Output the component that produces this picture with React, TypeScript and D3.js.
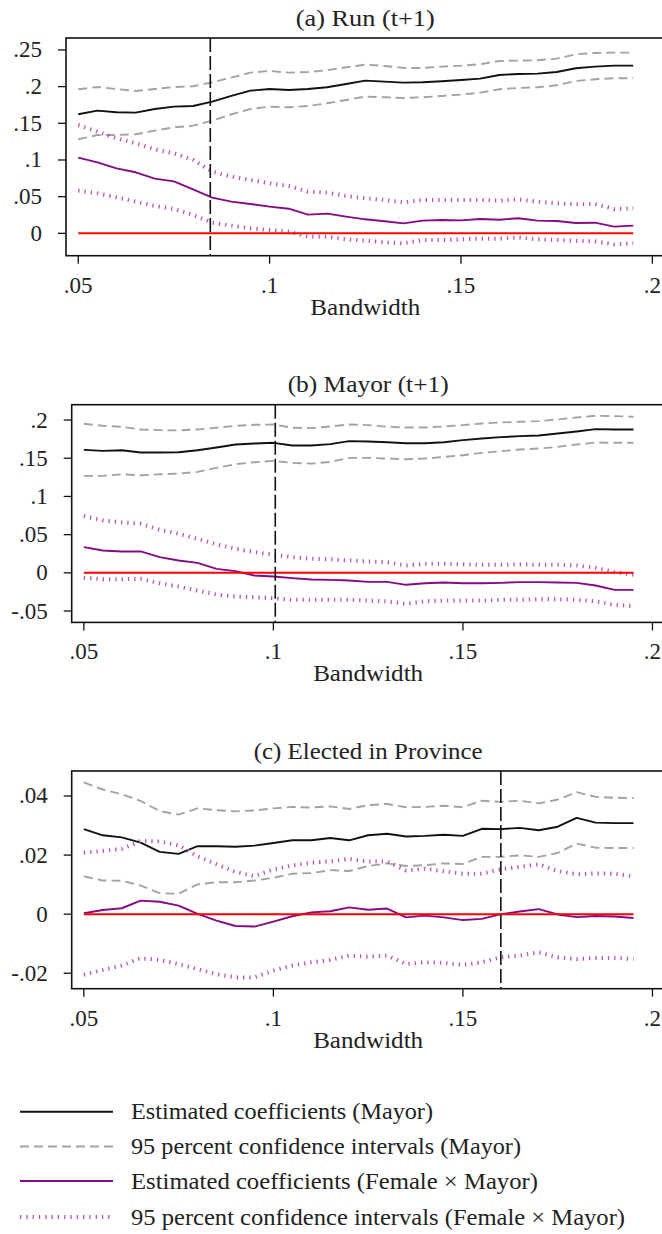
import React from "react";
import * as d3 from "d3";

const bandwidths = [0.05, 0.055, 0.06, 0.065, 0.07, 0.075, 0.08, 0.085, 0.09, 0.095, 0.1, 0.105, 0.11, 0.115, 0.12, 0.125, 0.13, 0.135, 0.14, 0.145, 0.15, 0.155, 0.16, 0.165, 0.17, 0.175, 0.18, 0.185, 0.19, 0.195];

// Panel (a) Run (t+1)
const aCoef = [0.1623,0.1673,0.165,0.1645,0.1695,0.1727,0.1736,0.1795,0.1873,0.1945,0.1968,0.1955,0.1968,0.1991,0.2036,0.2082,0.2068,0.2055,0.2059,0.2073,0.2091,0.2109,0.2159,0.2173,0.2177,0.22,0.225,0.2273,0.2286,0.2286];
const aHi = [0.1964,0.1995,0.1968,0.1941,0.1968,0.1995,0.2005,0.2059,0.2123,0.2191,0.2214,0.2191,0.22,0.2223,0.2264,0.23,0.2282,0.2255,0.2255,0.2273,0.2286,0.2305,0.235,0.2355,0.2359,0.2382,0.2441,0.2459,0.2464,0.2464];
const aLo = [0.1282,0.1341,0.1341,0.135,0.14,0.1445,0.1468,0.1536,0.1623,0.1695,0.1727,0.1718,0.1736,0.1773,0.1818,0.1864,0.1855,0.1845,0.1855,0.1873,0.1891,0.1918,0.1964,0.1982,0.1991,0.2018,0.2077,0.21,0.2114,0.2114];
const aFCoef = [0.1032,0.0968,0.0886,0.0832,0.0745,0.0709,0.06,0.0486,0.0432,0.04,0.0364,0.0336,0.0255,0.0268,0.0227,0.0191,0.0164,0.0136,0.0173,0.0182,0.0177,0.0195,0.0186,0.0205,0.0173,0.0168,0.0141,0.0145,0.0091,0.0105];
const aFHi = [0.1477,0.1386,0.1295,0.1227,0.1145,0.1091,0.1,0.0841,0.0773,0.0727,0.0682,0.0645,0.0568,0.0555,0.0509,0.0477,0.0455,0.0423,0.0455,0.0455,0.0455,0.0455,0.0445,0.0464,0.0432,0.0409,0.0395,0.04,0.0332,0.0341];
const aFLo = [0.0582,0.0545,0.0491,0.0432,0.0373,0.0332,0.025,0.0145,0.0105,0.0068,0.0045,0.0023,-0.0045,-0.0045,-0.0082,-0.01,-0.0123,-0.0136,-0.0091,-0.0091,-0.0082,-0.0073,-0.0073,-0.0055,-0.0082,-0.0091,-0.01,-0.0109,-0.015,-0.0136];

// Panel (b) Mayor (t+1)
const bCoef = [0.161,0.1597,0.1605,0.1575,0.1575,0.1579,0.1605,0.164,0.168,0.1693,0.1702,0.1667,0.1667,0.1685,0.1724,0.1719,0.171,0.1697,0.1697,0.171,0.1737,0.1759,0.1776,0.1789,0.1798,0.1824,0.185,0.1881,0.1877,0.1877];
const bHi = [0.1951,0.1925,0.1912,0.1877,0.1868,0.1864,0.1877,0.1899,0.1925,0.1938,0.1942,0.1899,0.1894,0.1916,0.1942,0.1934,0.1912,0.1903,0.1903,0.1916,0.1934,0.1955,0.1969,0.1977,0.1986,0.2008,0.2034,0.2056,0.2052,0.2043];
const bLo = [0.1269,0.1269,0.129,0.1277,0.129,0.1299,0.1321,0.1374,0.1422,0.1448,0.1465,0.1439,0.143,0.1452,0.1505,0.1505,0.1496,0.1487,0.1496,0.1518,0.154,0.157,0.1592,0.1614,0.1627,0.1649,0.168,0.1706,0.1702,0.1702];
const bFCoef = [0.0337,0.0293,0.028,0.028,0.0206,0.0162,0.0131,0.0052,0.0022,-0.0035,-0.0048,-0.007,-0.0087,-0.0092,-0.0101,-0.0118,-0.0118,-0.0157,-0.0136,-0.0127,-0.0136,-0.0136,-0.0131,-0.0122,-0.0122,-0.0127,-0.0131,-0.0166,-0.0223,-0.0223];
const bFHi = [0.0744,0.0687,0.0661,0.0643,0.0564,0.0512,0.0446,0.0372,0.0315,0.0271,0.0236,0.0206,0.0184,0.0175,0.0162,0.0149,0.014,0.0096,0.0118,0.0118,0.0109,0.0105,0.0105,0.0109,0.0105,0.0105,0.0096,0.0066,0.0009,-0.0026];
const bFLo = [-0.0066,-0.0083,-0.0083,-0.0079,-0.0136,-0.0179,-0.0232,-0.0284,-0.0311,-0.0319,-0.0332,-0.0354,-0.0354,-0.0354,-0.0354,-0.0363,-0.0372,-0.0407,-0.0372,-0.0363,-0.0363,-0.0363,-0.0354,-0.0354,-0.0346,-0.0346,-0.0354,-0.0372,-0.042,-0.0433];

// Panel (c) Elected in Province
const cCoef = [0.0288,0.0267,0.026,0.0242,0.0211,0.0204,0.023,0.023,0.0228,0.0232,0.0241,0.025,0.025,0.0258,0.025,0.0267,0.0272,0.0263,0.0265,0.0269,0.0265,0.0289,0.0288,0.0292,0.0284,0.0296,0.0326,0.031,0.0308,0.0308];
const cHi = [0.0446,0.0422,0.0406,0.0383,0.0349,0.0337,0.0358,0.0352,0.0348,0.0351,0.0358,0.0363,0.0361,0.0365,0.0356,0.0369,0.0373,0.0362,0.0363,0.0367,0.0362,0.0384,0.038,0.0384,0.0375,0.0388,0.0413,0.0397,0.0394,0.0393];
const cLo = [0.0128,0.0114,0.0113,0.0097,0.0071,0.0069,0.0101,0.0108,0.0108,0.0114,0.0123,0.0137,0.0139,0.0149,0.0146,0.0163,0.0172,0.0163,0.0166,0.0172,0.017,0.0194,0.0194,0.0199,0.0194,0.0207,0.0239,0.0225,0.0224,0.0224];
const cFCoef = [0.0003,0.0014,0.002,0.0046,0.0042,0.0029,0.0001,-0.0022,-0.004,-0.0042,-0.0025,-0.0007,0.0006,0.001,0.0023,0.0015,0.0019,-0.0011,-0.0005,-0.0011,-0.002,-0.0016,0,0.0009,0.0017,-0.0001,-0.001,-0.0006,-0.0008,-0.0013];
const cFHi = [0.0208,0.0214,0.0221,0.0248,0.0246,0.0233,0.0196,0.0169,0.0143,0.0129,0.0151,0.0165,0.0174,0.0179,0.0187,0.0178,0.0178,0.0148,0.0154,0.0145,0.0137,0.0137,0.0152,0.016,0.0169,0.0146,0.0135,0.0138,0.0137,0.0128];
const cFLo = [-0.0205,-0.0189,-0.0174,-0.0149,-0.0155,-0.0169,-0.0186,-0.0203,-0.0214,-0.0214,-0.0191,-0.0174,-0.0163,-0.0155,-0.014,-0.0144,-0.014,-0.0169,-0.0163,-0.0165,-0.0172,-0.0163,-0.0146,-0.014,-0.0129,-0.0146,-0.0152,-0.0148,-0.0148,-0.0152];

const optimalBandwidths = [0.0845, 0.1005, 0.16];
const panelTitles = ["(a) Run (t+1)", "(b) Mayor (t+1)", "(c) Elected in Province"];
const titleWidths = [139, 161, 229];

const xTicks = [0.05, 0.1, 0.15, 0.2];
const xTickLabels = [".05", ".1", ".15", ".2"];
const aYTicks = [0, 0.05, 0.1, 0.15, 0.2, 0.25];
const aYTickLabels = ["0", ".05", ".1", ".15", ".2", ".25"];
const bYTicks = [-0.05, 0, 0.05, 0.1, 0.15, 0.2];
const bYTickLabels = ["-.05", "0", ".05", ".1", ".15", ".2"];
const cYTicks = [-0.02, 0, 0.02, 0.04];
const cYTickLabels = ["-.02", "0", ".02", ".04"];

const legendLabels = [
  "Estimated coefficients (Mayor)",
  "95 percent confidence intervals (Mayor)",
  "Estimated coefficients (Female \u00d7 Mayor)",
  "95 percent confidence intervals (Female \u00d7 Mayor)",
];
const legendWidths = [302, 390, 407, 494];

const FONT = "'Liberation Serif', 'Times New Roman', serif";
const BLACK = "#111";
const GRAY = "#a3a3a3";
const PURPLE = "#850a85";
const LPURPLE = "#b356b3";

const styles = [
  { stroke: BLACK, width: 1.9, dash: undefined as string | undefined },
  { stroke: GRAY, width: 1.9, dash: "9 5" },
  { stroke: PURPLE, width: 1.9, dash: undefined as string | undefined },
  { stroke: LPURPLE, width: 4, dash: "1.3 5" },
];

const panels = [
  { top: 38, left: 66, yDomain: [-0.0305, 0.2663], yTicks: aYTicks, yLabels: aYTickLabels,
    series: [aCoef, aHi, aLo, aFCoef, aFHi, aFLo] },
  { top: 404.7, left: 71.7, yDomain: [-0.0649, 0.2201], yTicks: bYTicks, yLabels: bYTickLabels,
    series: [bCoef, bHi, bLo, bFCoef, bFHi, bFLo] },
  { top: 771, left: 71.7, yDomain: [-0.02523, 0.04846], yTicks: cYTicks, yLabels: cYTickLabels,
    series: [cCoef, cHi, cLo, cFCoef, cFHi, cFLo] },
];
const seriesStyle = [0, 1, 1, 2, 3, 3];

const PANEL_H = 217.7;
const RIGHT = 664.6;

function Panel({ idx }: { idx: number }) {
  const p = panels[idx];
  const bottom = p.top + PANEL_H;
  const x = d3.scaleLinear().domain([0.0468, 0.2032]).range([p.left, RIGHT]);
  const y = d3.scaleLinear().domain(p.yDomain).range([bottom, p.top]);
  const line = (vals: number[]) =>
    d3.line<number>().x((_, i) => x(bandwidths[i])).y((v) => y(v))(vals) || "";
  const cx = (p.left + RIGHT) / 2;
  const vx = x(optimalBandwidths[idx]);
  return (
    <g>
      <text x={cx} y={p.top - 12.5} textAnchor="middle" fontFamily={FONT} fontSize={23}
        textLength={titleWidths[idx]} lengthAdjust="spacingAndGlyphs" fill="#222">
        {panelTitles[idx]}
      </text>
      {p.series.map((vals, i) => {
        const s = styles[seriesStyle[i]];
        return (
          <path key={i} d={line(vals)} fill="none" stroke={s.stroke} strokeWidth={s.width}
            strokeDasharray={s.dash} strokeLinejoin="round" />
        );
      })}
      <line x1={x(bandwidths[0])} x2={x(bandwidths[bandwidths.length - 1])} y1={y(0)} y2={y(0)}
        stroke="#ff0000" strokeWidth={2} />
      <line x1={vx} x2={vx} y1={p.top} y2={bottom} stroke="#111" strokeWidth={1.6} strokeDasharray="14 4" />
      <rect x={p.left} y={p.top} width={RIGHT - p.left} height={PANEL_H} fill="none" stroke="#111" strokeWidth={1.6} />
      {p.yTicks.map((t, i) => (
        <g key={"y" + i}>
          <line x1={p.left - 8} x2={p.left} y1={y(t)} y2={y(t)} stroke="#111" strokeWidth={1.3} />
          <text x={p.left - 24} y={y(t) + 7.5} textAnchor="end" fontFamily={FONT} fontSize={23} fill="#222">
            {p.yLabels[i]}
          </text>
        </g>
      ))}
      {xTicks.map((t, i) => (
        <g key={"x" + i}>
          <line x1={x(t)} x2={x(t)} y1={bottom} y2={bottom + 8} stroke="#111" strokeWidth={1.3} />
          <text x={x(t)} y={bottom + 37} textAnchor="middle" fontFamily={FONT} fontSize={23} fill="#222">
            {xTickLabels[i]}
          </text>
        </g>
      ))}
      <text x={cx} y={bottom + 59} textAnchor="middle" fontFamily={FONT} fontSize={23}
        textLength={110} lengthAdjust="spacingAndGlyphs" fill="#222">
        Bandwidth
      </text>
    </g>
  );
}

export default function App() {
  const legendY = [1111.7, 1146.5, 1181, 1217];
  return (
    <svg width={662} height={1234} style={{ position: "absolute", left: 0, top: 0, background: "#fff" }}>
      <rect x={0} y={0} width={662} height={1234} fill="#fff" />
      {panels.map((_, i) => (
        <Panel key={i} idx={i} />
      ))}
      {legendLabels.map((lab, i) => {
        const s = styles[i];
        return (
          <g key={"l" + i}>
            <line x1={20} x2={113} y1={legendY[i]} y2={legendY[i]} stroke={s.stroke} strokeWidth={s.width}
              strokeDasharray={s.dash} />
            <text x={131} y={legendY[i] + 7.5} fontFamily={FONT} fontSize={23} fill="#222"
              textLength={legendWidths[i]} lengthAdjust="spacingAndGlyphs">
              {lab}
            </text>
          </g>
        );
      })}
    </svg>
  );
}
